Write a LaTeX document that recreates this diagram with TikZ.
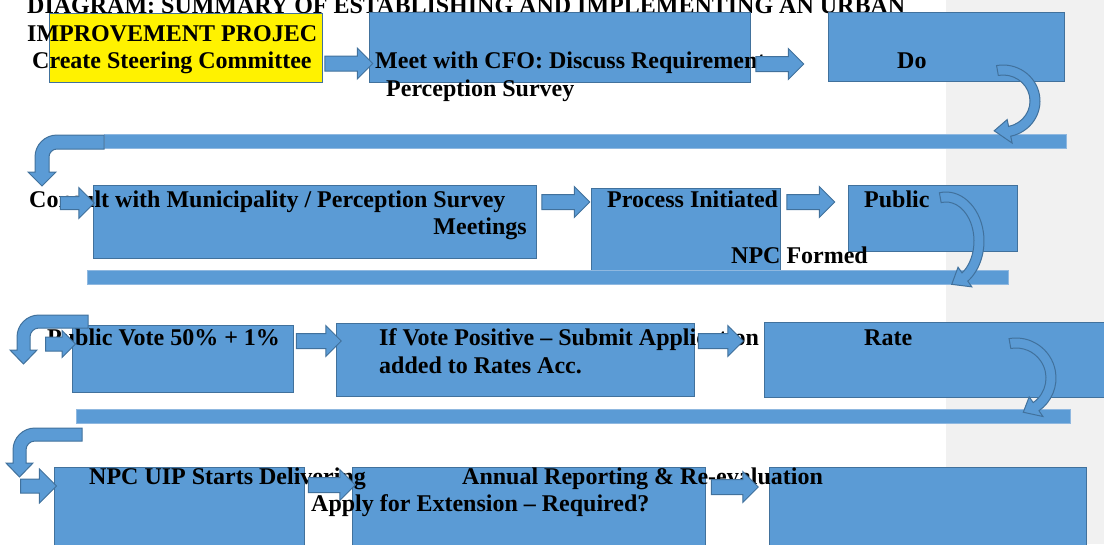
\documentclass[tikz,border=0pt]{standalone}
\usepackage{fontspec}
\setmainfont{Liberation Serif}
\usetikzlibrary{shapes.arrows,calc}

\definecolor{boxblue}{HTML}{5B9BD5}
\definecolor{boxedge}{HTML}{41719C}
\definecolor{baredge}{HTML}{8FB8E0}
\definecolor{pagegray}{HTML}{F1F1F1}

% curved turn arrow: centre x, centre y, x radius, y radius, head base angle, tip angle
\newcommand{\uturn}[6]{%
  \draw[blkarrow] (#1,#2) ++(-100:{#3+5} and {#4+5})
    arc[start angle=-100,end angle=#5,x radius={#3+5},y radius={#4+5}]
    -- ($(#1,#2)+(#5:{#3+12} and {#4+12})$)
    -- ($(#1,#2)+(#6:#3 and #4)$)
    -- ($(#1,#2)+(#5:{#3-12} and {#4-12})$)
    -- ($(#1,#2)+(#5:{#3-5} and {#4-5})$)
    arc[start angle=#5,end angle=-100,x radius={#3-5},y radius={#4-5}]
    -- cycle;}

% bent arrow going left then down: right end x, top y, left x, thickness, head y, head overhang
\newcommand{\bentarrow}[6]{%
  \draw[blkarrow] (#1,#2) -- ({#3+22},#2)
    arc[start angle=-90,end angle=-180,radius=22]
    -- (#3,#5) -- ({#3-#6},#5) -- ({#3+#4/2},{#5+14})
    -- ({#3+#4+#6},#5) -- ({#3+#4},#5) -- ({#3+#4},{#2+22})
    arc[start angle=180,end angle=270,radius={22-#4}]
    -- (#1,{#2+#4}) -- cycle;}

\begin{document}
\begin{tikzpicture}[x=1pt,y=-1pt,
  box/.style={draw=boxedge,fill=boxblue,line width=1.2pt,anchor=north west,inner sep=0pt},
  lbl/.style={anchor=base west,inner sep=0pt,font=\fontsize{24}{28}\selectfont\bfseries},
  bar/.style={draw=baredge,fill=boxblue,line width=0.8pt},
  blkarrow/.style={draw=boxedge,fill=boxblue,line width=1pt},
  rarrow/.style={single arrow,draw=boxedge,fill=boxblue,line width=1pt,inner xsep=0pt,
    inner ysep=7pt,single arrow head extend=8pt,minimum height=48pt}]

\useasboundingbox (0,0) rectangle (1104,544);
\fill[pagegray] (946,0) rectangle (1104,544);

\node[lbl] (title1) at (27,13) {DIAGRAM: SUMMARY OF ESTABLISHING AND IMPLEMENTING AN URBAN};

\node[box,fill=yellow,minimum width=273pt,minimum height=69pt] (steer) at (49,13) {};
\node[box,minimum width=381pt,minimum height=70pt] (cfo) at (369,12) {};
\node[box,minimum width=236pt,minimum height=69pt] (do) at (828,12) {};
\node[box,minimum width=443pt,minimum height=73pt] (consult) at (93,185) {};
\node[box,minimum width=189pt,minimum height=95pt] (process) at (591,188) {};
\node[box,minimum width=169pt,minimum height=66pt] (public) at (848,185) {};
\node[box,minimum width=221pt,minimum height=67pt] (vote) at (72,325) {};
\node[box,minimum width=358pt,minimum height=73pt] (submit) at (336,323) {};
\node[box,minimum width=350pt,minimum height=75pt] (rate) at (764,322) {};
\node[box,minimum width=250pt,minimum height=90pt] (deliver) at (54,467) {};
\node[box,minimum width=353pt,minimum height=90pt] (annual) at (352,467) {};
\node[box,minimum width=317pt,minimum height=90pt] (extension) at (769,467) {};

\node[lbl] (title2) at (27,41) {IMPROVEMENT PROJEC};
\node[lbl] (steertxt) at (32,68) {Create Steering Committee};
\node[lbl] (cfotxt) at (375,68) {Meet with CFO: Discuss Requirements};
\node[lbl] (cfotxt2) at (386,96) {Perception Survey};
\node[lbl] (dotxt) at (897,68) {Do};
\node[lbl] (consulttxt) at (29,207) {Consult with Municipality / Perception Survey};
\node[lbl,anchor=base east] (consulttxt2) at (527,234) {Meetings};
\node[lbl] (processtxt) at (607,207) {Process Initiated};
\node[lbl] (publictxt) at (864,207) {Public};
\node[lbl] (npctxt) at (731,263) {NPC Formed};
\node[lbl] (votetxt) at (47,345) {Public Vote 50\% + 1\%};
\node[lbl] (submittxt) at (379,345) {If Vote Positive – Submit Application};
\node[lbl] (submittxt2) at (379,373) {added to Rates Acc.};
\node[lbl] (ratetxt) at (864,345) {Rate};
\node[lbl] (delivertxt) at (89,484) {NPC UIP Starts Delivering};
\node[lbl] (annualtxt) at (462,484) {Annual Reporting \& Re-evaluation};
\node[lbl] (annualtxt2) at (311,511) {Apply for Extension – Required?};

\draw[bar] (104,134) rectangle (1066,148);
\draw[bar] (87,270) rectangle (1008,284);
\draw[bar] (76,409) rectangle (1070,423);

\node[rarrow] (a1) at (345,63.5) {};
\node[rarrow] (a2) at (776,64) {};
\node[rarrow,minimum height=34pt,inner ysep=6pt,single arrow head extend=9pt] (b0) at (74,203) {};
\node[rarrow] (b1) at (562,202) {};
\node[rarrow] (b2) at (807,202) {};
\node[rarrow,minimum height=30pt,inner ysep=6.5pt,single arrow head extend=6.5pt] (c0) at (57,344) {};
\node[rarrow,minimum height=45pt] (c1) at (315,341) {};
\node[rarrow,minimum height=45pt] (c2) at (717,341) {};
\node[rarrow,minimum height=36pt,inner ysep=6.5pt,single arrow head extend=10pt] (d0) at (35,486) {};
\node[rarrow,minimum height=47pt] (d1) at (328,485) {};
\node[rarrow,minimum height=47pt] (d2) at (731,487) {};

\uturn{1003}{101}{32}{31}{78}{106}
\uturn{946}{241}{33}{44}{55}{80}
\uturn{1016}{378}{35}{35}{55}{78}

\bentarrow{104}{135}{35}{14}{172}{7}
\bentarrow{88}{315}{17}{13}{350}{7}
\bentarrow{82}{428}{13}{13}{463}{7}

\end{tikzpicture}
\end{document}
